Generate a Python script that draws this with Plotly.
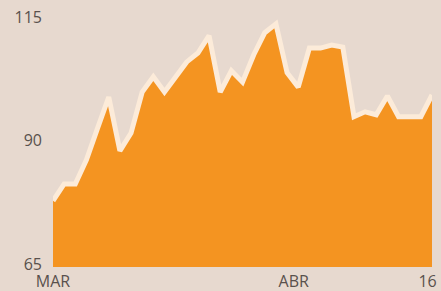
import plotly.graph_objects as go

# Data (index = trading day, value)
values = [77.8, 81.2, 81.2, 86.1, 92.5, 98.8, 87.9, 91.5, 99.8, 102.9,
          99.8, 102.9, 105.9, 107.7, 111.2, 99.8, 104.1, 101.8, 107.3, 111.8,
          113.6, 103.7, 100.8, 108.7, 108.7, 109.3, 108.9, 94.8, 95.8, 95.2,
          99.0, 94.8, 94.8, 94.8, 99.2]
days = list(range(len(values)))

x_tick_pos = [0, 21.6, 33.6]
x_tick_text = ["MAR", "ABR", "16"]
y_ticks = [65, 90, 115]

BG = "#e7d9cf"
ORANGE = "#f49421"
CREAM = "#fcebd9"
TXT = "#59514d"

fig = go.Figure()
fig.add_trace(go.Scatter(
    x=days, y=values, mode="lines",
    fill="tozeroy", fillcolor=ORANGE,
    line=dict(color=CREAM, width=5, shape="linear"),
    hoverinfo="skip",
))

fig.update_layout(
    width=441, height=291,
    margin=dict(l=53, r=9, t=10, b=24, autoexpand=False),
    paper_bgcolor=BG, plot_bgcolor=BG,
    showlegend=False,
    font=dict(family="Open Sans, sans-serif", size=16, color=TXT),
)
fig.update_xaxes(
    range=[0, 34], showgrid=False, zeroline=False, showline=False,
    tickmode="array", tickvals=x_tick_pos, ticktext=x_tick_text,
    ticks="", ticklabelstandoff=3, fixedrange=True, automargin=False,
)
fig.update_yaxes(
    range=[64.4, 116.4], showgrid=False, zeroline=False, showline=False,
    tickmode="array", tickvals=y_ticks, ticktext=[str(v) for v in y_ticks],
    ticks="", ticklabelstandoff=10, fixedrange=True, automargin=False,
)

fig.write_html(
    "out.html",
    config={"displayModeBar": False},
    post_script="document.body.style.margin='0';document.body.style.overflow='hidden';document.body.style.background='" + BG + "';",
)
